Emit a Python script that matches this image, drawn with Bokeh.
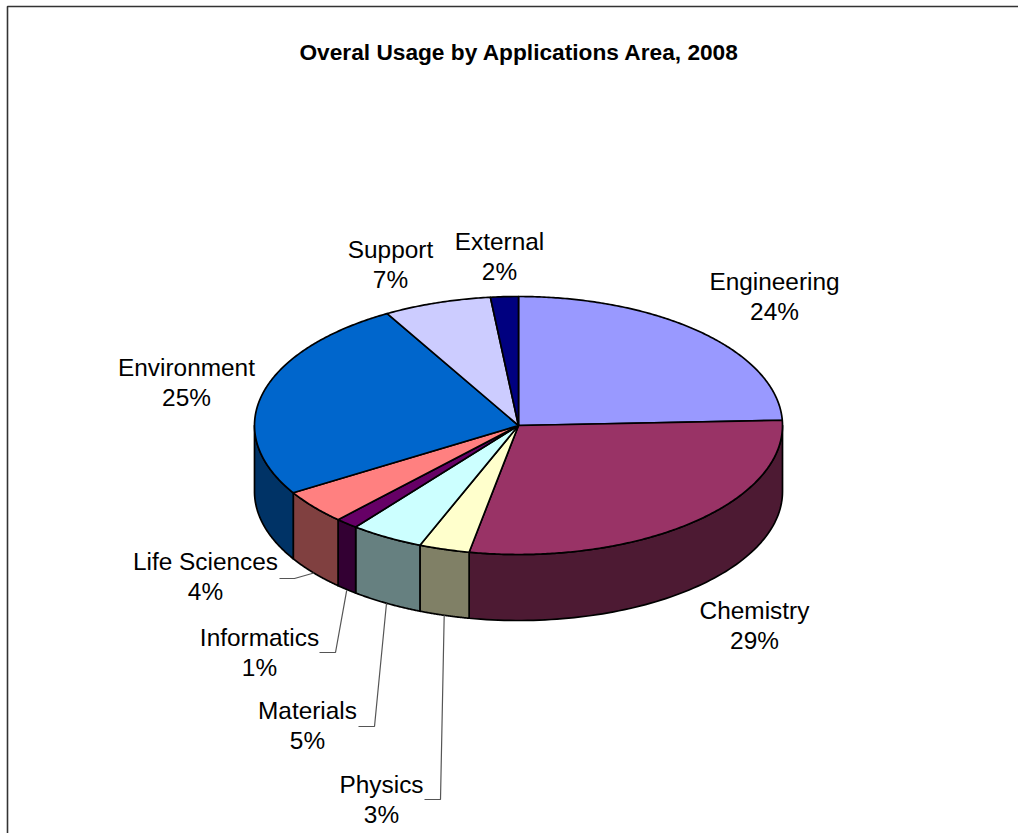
import numpy as np
from bokeh.plotting import figure
from bokeh.models import ColumnDataSource, Range1d
from bokeh.core.properties import value
from bokeh.embed import file_html
from bokeh.resources import INLINE

title = "Overal Usage by Applications Area, 2008"
categories = ["Engineering", "Chemistry", "Physics", "Materials", "Informatics", "Life Sciences", "Environment", "Support", "External"]
shares = [24.4, 28.7, 3.1, 4.5, 1.4, 4.3, 25.5, 6.6, 1.7]
percent_labels = ["24%", "29%", "3%", "5%", "1%", "4%", "25%", "7%", "2%"]
top_colors = ["#9999FF", "#993366", "#FFFFCC", "#CCFFFF", "#660066", "#FF8080", "#0066CC", "#CCCCFF", "#000080"]
side_colors = ["#4D4D80", "#4D1A33", "#808066", "#668080", "#330033", "#804040", "#003366", "#666680", "#000040"]

# layout
W, H = 1018, 833
CX, CY, RX, RY, DEPTH = 518.0, 425.0, 264.0, 129.0, 66.0
label_x = [774, 754, 381, 307, 259, 205, 186, 390, 499]
label_y = [281, 610, 784, 710, 637, 561, 367, 249, 241]
LINE_GAP = 30
leader_elbows = {
    "Life Sciences": [(279, 578), (294, 578)],
    "Informatics": [(319, 652), (335, 652)],
    "Materials": [(358, 726), (374, 726)],
    "Physics": [(424, 799), (440, 799)],
}


def ell(deg, dy=0.0):
    a = np.radians(deg)
    return CX + RX * np.sin(a), CY - RY * np.cos(a) + dy


p = figure(width=W, height=H, output_backend="svg", toolbar_location=None,
           x_range=Range1d(0, W), y_range=Range1d(H, 0), min_border=0,
           outline_line_color=None, background_fill_color="white", border_fill_color="white")
p.margin = 0
p.xaxis.visible = False
p.yaxis.visible = False
p.xgrid.visible = False
p.ygrid.visible = False

# chart frame: only its top and left edges are in the picture
p.line([7, 7, W], [H, 6, 6], line_color="#333333", line_width=1.6)

bounds = np.concatenate([[0], np.cumsum(shares)]) / np.sum(shares) * 360.0
starts, ends = bounds[:-1], bounds[1:]

# walls of the drum: only the front half shows
for s, e, c in zip(starts, ends, side_colors):
    lo, hi = max(s, 90.0), min(e, 270.0)
    if hi <= lo:
        continue
    t = np.linspace(lo, hi, 80)
    x1, y1 = ell(t)
    x2, y2 = ell(t[::-1], DEPTH)
    p.patch(np.concatenate([x1, x2]), np.concatenate([y1, y2]), fill_color=c,
            line_color="black", line_width=1.7, line_join="round")

# top face
for s, e, c in zip(starts, ends, top_colors):
    t = np.linspace(s, e, max(int(e - s) * 2, 6))
    x1, y1 = ell(t)
    p.patch(np.concatenate([[CX], x1]), np.concatenate([[CY], y1]), fill_color=c,
            line_color="black", line_width=1.7, line_join="round")

# leader lines run from the slice's mid angle on the lower rim
for name, s, e in zip(categories, starts, ends):
    if name in leader_elbows:
        ax, ay = ell((s + e) / 2.0, DEPTH)
        if name == "Informatics":
            ay += 1
        pts = leader_elbows[name]
        p.line([pts[0][0], pts[1][0], ax], [pts[0][1], pts[1][1], ay], line_color="#555555", line_width=1.2)

src = ColumnDataSource(dict(
    x=label_x + label_x,
    y=label_y + [v + LINE_GAP for v in label_y],
    t=categories + percent_labels))
p.text("x", "y", text="t", source=src, text_font=value("Liberation Sans"), text_font_size="24.4px",
       text_align="center", text_baseline="middle", text_color="black")
p.text([519], [51], text=[title], text_font=value("Liberation Sans"), text_font_size="22.7px",
       text_font_style="bold", text_align="center", text_baseline="middle", text_color="black")

open("out.html", "w").write(file_html(p, INLINE))
